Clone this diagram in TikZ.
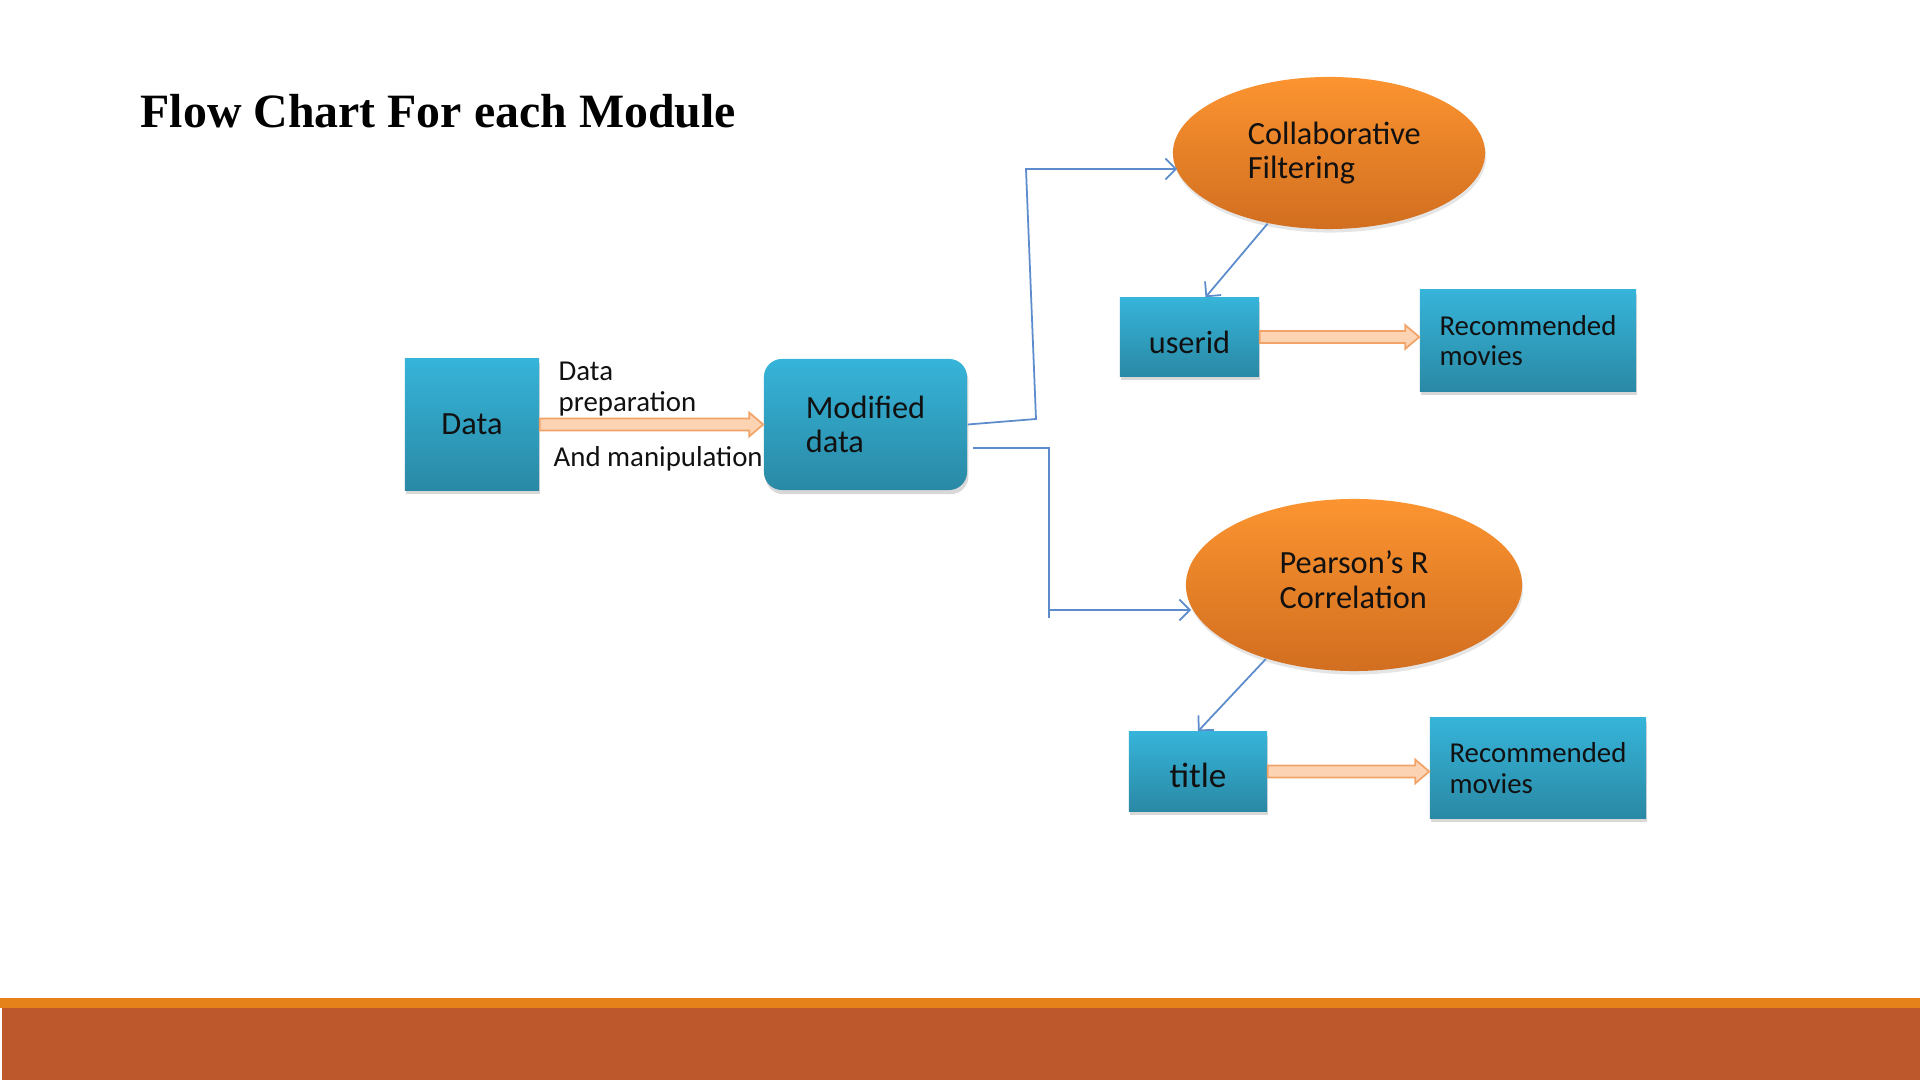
\documentclass[tikz,border=0pt]{standalone}
\usepackage{fontspec}
\setmainfont{Carlito}
\newfontfamily\titlefont{Liberation Serif}
\usetikzlibrary{shapes.geometric,arrows.meta,calc,shadows}
\definecolor{tealtop}{HTML}{36B4D9}
\definecolor{tealbot}{HTML}{2A89A5}
\definecolor{orgtop}{HTML}{FC9430}
\definecolor{orgbot}{HTML}{D16E20}
\definecolor{peach}{HTML}{FCD4B4}
\definecolor{peachdark}{HTML}{F2A468}
\definecolor{blueline}{HTML}{5C8CCB}
\definecolor{bandorange}{HTML}{E5821A}
\definecolor{bandbrown}{HTML}{BD582C}
\definecolor{textdark}{HTML}{111111}
\tikzset{
  box/.style={draw=none, top color=tealtop, bottom color=tealbot, inner sep=0pt,
    align=left, text=textdark, font=\fontsize{9.2}{9.8}\selectfont,
    drop shadow={opacity=0.3, shadow xshift=0.4pt, shadow yshift=-1.2pt}},
  smallbox/.style={box, font=\fontsize{8.2}{8.6}\selectfont},
  oval/.style={ellipse, draw=none, top color=orgtop, bottom color=orgbot, inner sep=0pt,
    align=left, text=textdark, font=\fontsize{9.2}{9.8}\selectfont,
    drop shadow={opacity=0.2, shadow xshift=0.3pt, shadow yshift=-1pt}},
  conn/.style={draw=blueline, line width=0.5pt, -{Straight Barb[length=3pt,width=6pt]}},
  plainline/.style={draw=blueline, line width=0.5pt},
  fat/.style={fill=peach, draw=peachdark, line width=0.5pt},
  lab/.style={anchor=west, inner sep=0pt, align=left, text=textdark, font=\fontsize{8.2}{8.6}\selectfont},
}
\newcommand\myfatarrow[2]{%
  \path[fat] let \p1=(#1.east), \p2=(#2.west) in
    (\x1,\y1+1.7pt) -- (\x2-4pt,\y1+1.7pt) -- (\x2-4pt,\y1+3.4pt) -- (\x2,\y1)
    -- (\x2-4pt,\y1-3.4pt) -- (\x2-4pt,\y1-1.7pt) -- (\x1,\y1-1.7pt) -- cycle;}
\begin{document}
\begin{tikzpicture}[x=0.01cm,y=-0.01cm]
\useasboundingbox (0,0) rectangle (1920,1080);
\fill[white] (0,0) rectangle (1920,1080);
% bottom bands
\fill[bandorange] (0,998) rectangle (1920,1008);
\fill[bandbrown] (2,1008) rectangle (1920,1080);
% title
\node[anchor=base west, inner sep=0pt, font=\titlefont\bfseries\fontsize{13.6}{15}\selectfont] (ttl) at (140,128) {Flow Chart For each Module};
% nodes
\node[box, minimum width=1.34cm, minimum height=1.31cm] (data) at (472,424.5) {Data};
\node[box, rounded corners=0.18cm, minimum width=2.03cm, minimum height=1.31cm] (mod) at (865.5,424.5) {Modified\\data};
\node[oval, minimum width=3.12cm, minimum height=1.52cm] (coll) at (1329,153) {\hspace*{3pt}Collaborative\\\hspace*{3pt}Filtering};
\node[box, minimum width=1.39cm, minimum height=0.78cm] (userid) at (1189.5,337) {\rule{0pt}{9.6pt}userid};
\node[smallbox, minimum width=2.16cm, minimum height=1.01cm] (rec1) at (1528,340.5) {Recommended\\movies};
\node[oval, minimum width=3.36cm, minimum height=1.72cm] (pear) at (1354,585) {Pearson’s R\\Correlation\rule[-3pt]{0pt}{0pt}};
\node[box, minimum width=1.38cm, minimum height=0.79cm, font=\fontsize{10}{11}\selectfont] (title) at (1198,771.5) {\rule{0pt}{9.3pt}title};
\node[smallbox, minimum width=2.16cm, minimum height=1.00cm] (rec2) at (1538,768) {Recommended\\movies};
% labels
\node[lab] (lab1) at (558,389) {Data\\preparation};
\node[lab] (lab2) at (553,459) {And manipulation};
% fat arrows
\myfatarrow{data}{mod}
\myfatarrow{userid}{rec1}
\myfatarrow{title}{rec2}
% connectors
\coordinate (u1) at (1036,419);
\coordinate (u2) at (1026,169);
\draw[conn] (mod.east) -- (u1) -- (u2) -- ($(u2 -| coll.west)+(5,0)$);
\coordinate (l0) at (973,448);
\coordinate (l1) at (1049,448);
\coordinate (l2) at (1049,618);
\coordinate (l3) at (1049,610);
\draw[plainline] (l0) -- (l1) -- (l2);
\draw[conn] (l3) -- ($(l3 -| pear.west)+(6,0)$);
\draw[conn] (coll.-131) -- ($(userid.north)+(16,0)$);
\draw[conn] (pear.-140) -- (title.north);
\end{tikzpicture}
\end{document}
